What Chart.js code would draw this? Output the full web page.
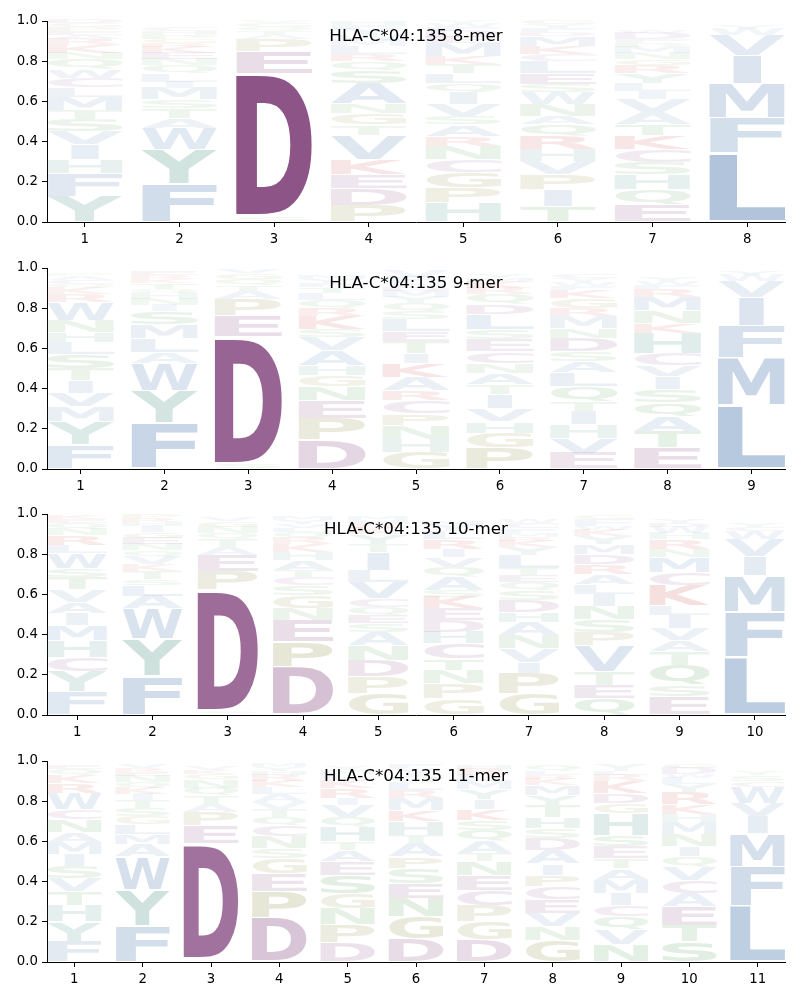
<!DOCTYPE html>
<html>
<head>
<meta charset="utf-8">
<script src="https://cdn.jsdelivr.net/npm/chart.js@4"></script>
<style>
  body { margin: 0; background: #fff; }
  .panel { position: absolute; left: 0; width: 800px; height: 247px; }
</style>
</head>
<body>
<div class="panel" style="top:0px"><canvas id="logo8" width="800" height="247"></canvas></div>
<div class="panel" style="top:247px"><canvas id="logo9" width="800" height="247"></canvas></div>
<div class="panel" style="top:493px"><canvas id="logo10" width="800" height="247"></canvas></div>
<div class="panel" style="top:740px"><canvas id="logo11" width="800" height="247"></canvas></div>
<script>
// letters of each column, bottom to top, and their heights (frequencies)
var logo8Letters = ["YFHIVSTMLCWQNKRAEPGD", "FYWATSMILQNEKRGPHC", "SDEPATQGV", "PDEKVTGNASQRLMWYFH",
  "HPGCNRASVIQLTKMEDFWY", "TIPVHRQANWSELCKMDFYG", "EQHSCKTAVILYRGNMPFDW", "LFMIVWY"];
var logo8Heights = [
  [.128,.112,.07,.075,.065,.06,.045,.065,.048,.049,.043,.05,.03,.04,.03,.02,.02,.02,.02,.02],
  [.19,.17,.108,.05,.05,.04,.06,.03,.04,.04,.03,.03,.03,.02,.02,.02,.02,.02],
  [.02,.72,.11,.06,.02,.02,.02,.02,.01],
  [.085,.082,.07,.071,.125,.05,.057,.05,.1,.065,.045,.035,.04,.03,.025,.03,.02,.02],
  [.095,.075,.078,.062,.067,.05,.058,.042,.058,.06,.045,.05,.045,.04,.065,.03,.03,.02,.02,.01],
  [.078,.082,.075,.065,.06,.067,.058,.042,.058,.058,.042,.055,.06,.033,.042,.05,.02,.02,.02,.02],
  [.086,.074,.075,.06,.065,.07,.055,.06,.065,.04,.04,.05,.04,.03,.03,.03,.02,.02,.03,.01],
  [.345,.175,.17,.14,.10,.03,.02]
];

var logo9Letters = ["FYMVITSLHNWRKQCAP", "FYWALMSINHQTKRE", "SDEPATQGV", "DPENGHAVSKRQLTFYM",
  "GHNPCRAKITELSQYMDWFV", "PGHVITANCESLDQRKMY", "EVHITQLASDNMRGKFWYC", "ETAQSIVCHKNMRFWY", "LMFIVWY"];
var logo9Heights = [
  [.12,.117,.073,.068,.062,.06,.07,.06,.05,.06,.09,.04,.03,.02,.02,.02,.01],
  [.23,.16,.137,.053,.07,.07,.065,.03,.03,.03,.02,.03,.02,.02,.02],
  [.02,.64,.105,.08,.04,.03,.03,.03,.02],
  [.143,.107,.09,.07,.056,.049,.075,.065,.04,.065,.04,.04,.035,.03,.02,.02,.02],
  [.085,.065,.067,.058,.065,.05,.067,.068,.05,.06,.05,.06,.04,.04,.03,.03,.02,.02,.03,.03],
  [.105,.075,.057,.063,.07,.05,.058,.049,.058,.058,.05,.077,.05,.05,.03,.03,.02,.02],
  [.08,.075,.065,.067,.05,.073,.068,.057,.05,.067,.048,.06,.04,.05,.04,.02,.02,.02,.02],
  [.105,.082,.075,.07,.066,.062,.057,.06,.1,.05,.06,.07,.04,.02,.02,.02],
  [.315,.24,.16,.14,.08,.03,.02]
];

var logo10Letters = ["FYCHMIAVTSWLRNQEK", "FYWALSTKVQNEGIHRP", "SDPEATQNGV", "DPENGSCTAHKRQLVYM",
  "GPDNASEQCVLITYKRHM", "GPNTCHDEKSAQVIRLYM", "GPIVNAHDSQETLYKRMFCW", "QETVPSNILARDMYKWFG",
  "ESQTAVILKCMNRHWDY", "LFMIVWCY"];
var logo10Heights = [
  [.115,.10,.072,.083,.075,.06,.058,.06,.06,.045,.075,.04,.05,.03,.03,.02,.02],
  [.193,.185,.15,.065,.055,.03,.04,.03,.04,.03,.03,.03,.03,.03,.02,.02,.02],
  [.016,.605,.095,.08,.04,.04,.03,.03,.03,.02],
  [.24,.124,.107,.058,.066,.05,.041,.034,.05,.04,.04,.03,.03,.02,.02,.02,.02],
  [.107,.083,.083,.074,.066,.042,.041,.041,.041,.082,.06,.09,.04,.05,.03,.02,.02,.02],
  [.083,.074,.066,.057,.075,.058,.058,.058,.058,.033,.066,.05,.049,.041,.05,.04,.03,.02],
  [.107,.10,.057,.066,.066,.066,.05,.06,.05,.04,.035,.035,.065,.04,.03,.02,.02,.02,.03,.02],
  [.083,.066,.066,.13,.065,.066,.066,.06,.05,.05,.05,.05,.05,.04,.03,.02,.03,.02],
  [.09,.059,.099,.066,.058,.058,.066,.049,.1,.065,.075,.04,.05,.03,.03,.02,.02],
  [.29,.225,.18,.095,.085,.04,.02,.02]
];

var logo11Letters = ["FYHTVSIMANCWRKQE", "FYWAMLGSTIKQNERV", "SDEPATQNGKV", "DPEGSNCQTVALKRHYM",
  "DPNGSEATHQVIRKLMY", "DGNESPATHKMRLQIVF", "DGPCENTAQSKIYMLRH", "GNVECPIADSHTYMKRLQ",
  "NVQCIMATESHGDKRLY", "STEACVQINMHKRYLWDG", "LFMIVWCSY"];
var logo11Heights = [
  [.102,.098,.084,.066,.066,.06,.06,.06,.05,.064,.05,.08,.05,.04,.03,.02],
  [.18,.178,.166,.06,.05,.05,.04,.04,.04,.03,.03,.03,.03,.02,.02,.02],
  [.012,.58,.085,.07,.04,.04,.04,.04,.03,.02,.02],
  [.22,.13,.09,.076,.049,.058,.057,.04,.04,.035,.04,.035,.03,.03,.02,.02,.02],
  [.094,.091,.083,.074,.091,.067,.057,.041,.075,.047,.06,.033,.05,.04,.03,.02,.02],
  [.115,.11,.092,.075,.074,.058,.066,.04,.068,.057,.06,.04,.04,.03,.02,.02,.02],
  [.11,.09,.08,.078,.072,.07,.04,.06,.056,.05,.055,.05,.05,.04,.03,.03,.02],
  [.11,.067,.066,.067,.065,.058,.057,.067,.058,.05,.057,.06,.05,.05,.03,.02,.02,.03],
  [.086,.074,.067,.057,.058,.066,.058,.05,.058,.057,.109,.05,.05,.06,.03,.02,.03],
  [.102,.08,.094,.067,.065,.066,.05,.05,.06,.06,.04,.05,.06,.04,.03,.02,.03,.02],
  [.28,.195,.165,.085,.065,.08,.03,.03,.02]
];

var yTicks = [0, 0.2, 0.4, 0.6, 0.8, 1.0];

// amino acid colour groups
var aaColor = {};
"AVILMFW".split("").forEach(function(a){ aaColor[a] = [80,124,177]; });
"YH".split("").forEach(function(a){ aaColor[a] = [64,141,123]; });
"DE".split("").forEach(function(a){ aaColor[a] = [125,60,120]; });
aaColor.C = [140,80,140];
"PG".split("").forEach(function(a){ aaColor[a] = [130,130,50]; });
"STNQ".split("").forEach(function(a){ aaColor[a] = [70,150,70]; });
"KR".split("").forEach(function(a){ aaColor[a] = [200,50,50]; });

function colorFor(aa, h) {
  var c = aaColor[aa] || [120,120,120];
  var alpha = Math.min(0.88, 0.04 + 1.18 * h);
  return "rgba(" + c[0] + "," + c[1] + "," + c[2] + "," + alpha + ")";
}

var GLYPH_FONT = 'bold 100px "DejaVu Sans"';
var refInk = null;

// draws one letter stretched to fill a box (narrow letters are not widened past the width of "E")
function drawGlyph(ctx, ch, x0, x1, yTop, yBot, color) {
  if (yBot - yTop < 0.3) return;
  ctx.save();
  ctx.font = GLYPH_FONT;
  ctx.textAlign = "left";
  ctx.textBaseline = "alphabetic";
  if (refInk === null) {
    var e = ctx.measureText("E");
    refInk = e.actualBoundingBoxLeft + e.actualBoundingBoxRight;
  }
  var m = ctx.measureText(ch);
  var gw = m.actualBoundingBoxLeft + m.actualBoundingBoxRight;
  var gh = m.actualBoundingBoxAscent + m.actualBoundingBoxDescent;
  var w = x1 - x0;
  var sx = Math.min(w / gw, w / refInk);
  ctx.translate(x0 + (w - gw * sx) / 2, yBot);
  ctx.scale(sx, (yBot - yTop) / gh);
  ctx.fillStyle = color;
  ctx.fillText(ch, m.actualBoundingBoxLeft, -m.actualBoundingBoxDescent);
  ctx.restore();
}

var logoPlugin = {
  id: "logo",
  afterDatasetsDraw: function(chart) {
    var ctx = chart.ctx;
    var area = chart.chartArea;
    ctx.save();
    ctx.beginPath();
    ctx.rect(area.left, area.top - 2, area.right - area.left, area.bottom - area.top + 2);
    ctx.clip();
    chart.data.datasets.forEach(function(ds, k) {
      var meta = chart.getDatasetMeta(k);
      meta.data.forEach(function(bar, i) {
        var pt = ds.data[i];
        var p = bar.getProps(["x", "y", "base", "width"], true);
        var top = Math.min(p.y, p.base), bot = Math.max(p.y, p.base);
        var pad = (bot - top) * 0.025;
        drawGlyph(ctx, pt.aa, p.x - p.width / 2, p.x + p.width / 2, top + pad, bot - pad, colorFor(pt.aa, pt.y));
      });
    });
    ctx.restore();
    // title inside the axes
    ctx.save();
    ctx.font = '16.7px "DejaVu Sans"';
    ctx.fillStyle = "#000";
    ctx.textAlign = "center";
    ctx.textBaseline = "middle";
    ctx.fillText(chart.options.plugins.logo.title, (area.left + area.right) / 2, area.top + 15.5);
    ctx.restore();
  }
};

function makeLogo(id, title, letters, heights) {
  var n = letters.length;
  var positions = [];
  for (var j = 1; j <= n; j++) positions.push(j);
  var depth = Math.max.apply(null, letters.map(function(s){ return s.length; }));
  var datasets = [];
  for (var k = 0; k < depth; k++) {
    var pts = [];
    letters.forEach(function(s, j) {
      if (k < s.length) pts.push({ x: j + 1, y: heights[j][k], aa: s[k] });
    });
    datasets.push({ data: pts, backgroundColor: "rgba(0,0,0,0)", borderWidth: 0,
      barPercentage: 0.8, categoryPercentage: 1.0 });
  }
  return new Chart(document.getElementById(id).getContext("2d"), {
    type: "bar",
    data: { datasets: datasets },
    options: {
      responsive: false,
      animation: false,
      events: [],
      layout: { padding: { top: 21, right: 15, left: 0, bottom: 0 } },
      plugins: { legend: { display: false }, tooltip: { enabled: false }, logo: { title: title } },
      scales: {
        x: {
          type: "linear", stacked: true, offset: false,
          min: 0.6, max: n + 0.4,
          afterBuildTicks: function(scale) { scale.ticks = positions.map(function(v){ return { value: v }; }); },
          afterFit: function(scale) { scale.height = 25; },
          grid: { offset: false, drawOnChartArea: false, drawTicks: true, tickLength: 5, color: "#000" },
          border: { display: true, color: "#000", width: 1 },
          ticks: { color: "#000", padding: 5, maxRotation: 0, autoSkip: false,
            font: { family: "DejaVu Sans", size: 13.3 },
            callback: function(v) { return String(v); } }
        },
        y: {
          stacked: true, min: 0, max: 1,
          afterBuildTicks: function(scale) { scale.ticks = yTicks.map(function(v){ return { value: v }; }); },
          afterFit: function(scale) { scale.width = 47; },
          grid: { drawOnChartArea: false, drawTicks: true, tickLength: 5, color: "#000" },
          border: { display: true, color: "#000", width: 1 },
          ticks: { color: "#000", padding: 4,
            font: { family: "DejaVu Sans", size: 13.3 },
            callback: function(v) { return Number(v).toFixed(1); } }
        }
      }
    },
    plugins: [logoPlugin]
  });
}

makeLogo("logo8", "HLA-C*04:135 8-mer", logo8Letters, logo8Heights);
makeLogo("logo9", "HLA-C*04:135 9-mer", logo9Letters, logo9Heights);
makeLogo("logo10", "HLA-C*04:135 10-mer", logo10Letters, logo10Heights);
makeLogo("logo11", "HLA-C*04:135 11-mer", logo11Letters, logo11Heights);
</script>
</body>
</html>
